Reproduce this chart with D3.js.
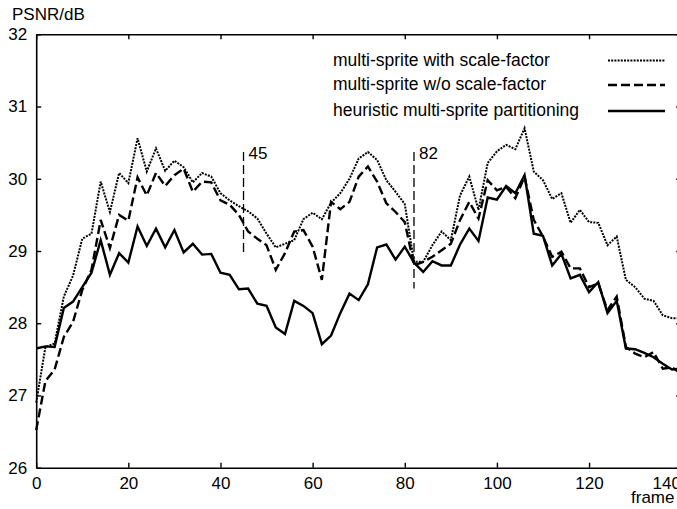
<!DOCTYPE html>
<html lang="en">
<head>
<meta charset="UTF-8">
<title>PSNR per frame</title>
<script src="https://d3js.org/d3.v7.min.js"></script>
<style>
    body{
        padding:0;
        margin:0;
        background:#fff;
    }
    #misvg{
        display:block;
    }
    text{
        font-family:"Liberation Sans", Arial, sans-serif;
        fill:#000;
    }
</style>
</head>
<body>

<svg id="misvg"></svg>

<script>
    // frames sampled every 2
    let frames = [0,2,4,6,8,10,12,14,16,18,20,22,24,26,28,30,32,34,36,38,40,42,44,46,48,50,52,54,56,58,60,62,64,66,68,70,
        72,74,76,78,80,82,84,86,88,90,92,94,96,98,100,102,104,106,108,110,112,114,116,118,120,122,124,126,128,130,132,134,136,138,140]

    let conEscala = [26.9,27.67,27.72,28.37,28.66,29.17,29.24,29.96,29.54,30.08,29.94,30.56,30.10,30.42,30.11,30.25,30.16,29.95,
        30.08,30.03,29.80,29.70,29.62,29.55,29.45,29.24,29.05,29.10,29.15,29.44,29.53,29.44,29.67,29.80,30.0,30.28,
        30.37,30.26,29.98,29.82,29.65,28.85,28.85,29.08,29.27,29.15,29.77,30.03,29.57,30.22,30.38,30.47,30.41,30.70,
        30.10,29.98,29.72,29.80,29.39,29.57,29.40,29.39,29.08,29.20,28.60,28.50,28.34,28.31,28.11,28.07,28.07]

    let sinEscala = [26.52,27.2,27.36,27.81,28.02,28.46,28.74,29.43,29.04,29.50,29.42,30.02,29.77,30.08,29.90,30.05,30.14,29.82,
        29.96,29.95,29.70,29.64,29.50,29.27,29.17,29.08,28.74,28.97,29.27,29.29,29.06,28.60,29.68,29.58,29.68,30.03,
        30.17,29.96,29.66,29.54,29.40,28.80,28.85,28.92,29.01,29.10,29.43,29.68,29.45,29.98,29.84,29.89,29.73,30.03,
        29.43,29.20,28.92,28.99,28.76,28.76,28.50,28.55,28.18,28.37,27.67,27.58,27.53,27.60,27.37,27.39,27.30]

    let heuristica = [27.65,27.68,27.67,28.21,28.30,28.50,28.70,29.15,28.67,28.97,28.84,29.34,29.07,29.31,29.05,29.29,28.98,29.10,
        28.95,28.96,28.70,28.67,28.47,28.48,28.27,28.24,27.94,27.85,28.31,28.24,28.14,27.71,27.83,28.14,28.41,28.32,
        28.54,29.05,29.09,28.88,29.06,28.84,28.71,28.86,28.80,28.80,29.09,29.31,29.14,29.74,29.71,29.90,29.80,30.05,
        29.24,29.21,28.80,28.96,28.62,28.67,28.43,28.57,28.14,28.31,27.65,27.64,27.59,27.53,27.44,27.36,27.37]

    let nombres = ["multi-sprite with scale-factor", "multi-sprite w/o scale-factor", "heuristic multi-sprite partitioning"]
    let ticksX = [0,20,40,60,80,100,120,140]
    let ticksY = [26,27,28,29,30,31,32]
    // vertical markers: frame, top, bottom
    let marcas = [{f:45, y0:30.37, y1:28.94}, {f:82, y0:30.37, y1:28.48}]

    let svgw = 677
    let svgh = 509
    let margen = {izq:36.2, der:-4.2, sup:34.3, inf:41.3}

    let svg = d3.select("#misvg")
        .attr('width', svgw)
        .attr('height', svgh)

    let escalaX = d3.scaleLinear()
        .domain([0, 140])
        .range([margen.izq, svgw - margen.der])

    let escalaY = d3.scaleLinear()
        .domain([26, 32])
        .range([svgh - margen.inf, margen.sup])

    let fuente = 17

    // axes, ticks point inward
    let ejeAbajo = svg.append('g')
        .attr('transform', `translate(0,${escalaY(26)})`)
        .call(d3.axisBottom(escalaX).tickValues(ticksX).tickFormat(d3.format('d'))
            .tickSizeInner(-5).tickSizeOuter(0).tickPadding(9))
    let ejeIzq = svg.append('g')
        .attr('transform', `translate(${escalaX(0)},0)`)
        .call(d3.axisLeft(escalaY).tickValues(ticksY).tickFormat(d3.format('d'))
            .tickSizeInner(-5).tickSizeOuter(0).tickPadding(9))
    svg.append('g')
        .attr('transform', `translate(0,${escalaY(32)})`)
        .call(d3.axisTop(escalaX).tickValues(ticksX).tickSizeInner(-5).tickSizeOuter(0).tickFormat(''))
    svg.append('g')
        .attr('transform', `translate(${escalaX(140)},0)`)
        .call(d3.axisRight(escalaY).tickValues(ticksY).tickSizeInner(-5).tickSizeOuter(0).tickFormat(''))

    svg.selectAll('.domain').attr('stroke', '#000').attr('stroke-width', 1.6)
    svg.selectAll('.tick line').attr('stroke', '#000').attr('stroke-width', 1.4)
    svg.selectAll('.tick text')
        .attr('font-size', fuente)
        .attr('font-family', '"Liberation Sans", Arial, sans-serif')
        .attr('fill', '#000')

    // the last x label sits a bit to the left, as in the original
    ejeAbajo.selectAll('.tick text')
        .filter(d=>d === 140)
        .attr('x', -15)

    svg.append('text')
        .attr('x', 12).attr('y', 20)
        .attr('font-size', fuente)
        .text('PSNR/dB')

    svg.append('text')
        .attr('x', 631).attr('y', 503)
        .attr('font-size', fuente)
        .text('frame')

    // marker lines at frames 45 and 82
    svg.selectAll('.marca')
        .data(marcas)
        .enter().append('line')
        .attr('x1', d=>escalaX(d.f)).attr('x2', d=>escalaX(d.f))
        .attr('y1', d=>escalaY(d.y0)).attr('y2', d=>escalaY(d.y1))
        .attr('stroke', '#000')
        .attr('stroke-width', 1.3)
        .attr('stroke-dasharray', '9,4')

    svg.selectAll('.marcaTxt')
        .data(marcas)
        .enter().append('text')
        .attr('x', d=>escalaX(d.f) + 5)
        .attr('y', d=>escalaY(d.y0) + 7)
        .attr('font-size', fuente)
        .text(d=>d.f)

    let series = [
        {nombre:nombres[0], valores:conEscala, ancho:2, guiones:'2,1.2'},
        {nombre:nombres[1], valores:sinEscala, ancho:2.4, guiones:'9,4'},
        {nombre:nombres[2], valores:heuristica, ancho:2.4, guiones:null}
    ]

    let linea = d3.line()
        .x((d,i)=>escalaX(frames[i]))
        .y(d=>escalaY(d))

    svg.selectAll('.serie')
        .data(series)
        .enter().append('path')
        .attr('d', d=>linea(d.valores))
        .attr('fill', 'none')
        .attr('stroke', '#000')
        .attr('stroke-width', d=>d.ancho)
        .attr('stroke-linejoin', 'miter')
        .attr('stroke-dasharray', d=>d.guiones)

    // legend
    let leyY = [60.5, 85, 111]
    let leyenda = svg.append('g')
    series.forEach((s, i) => {
        leyenda.append('text')
            .attr('x', 333).attr('y', leyY[i] + 5)
            .attr('font-size', 17.5)
            .text(s.nombre)
        leyenda.append('line')
            .attr('x1', 608).attr('x2', 665)
            .attr('y1', leyY[i]).attr('y2', leyY[i])
            .attr('stroke', '#000')
            .attr('stroke-width', s.ancho)
            .attr('stroke-dasharray', s.guiones)
    })
</script>

</body>
</html>
